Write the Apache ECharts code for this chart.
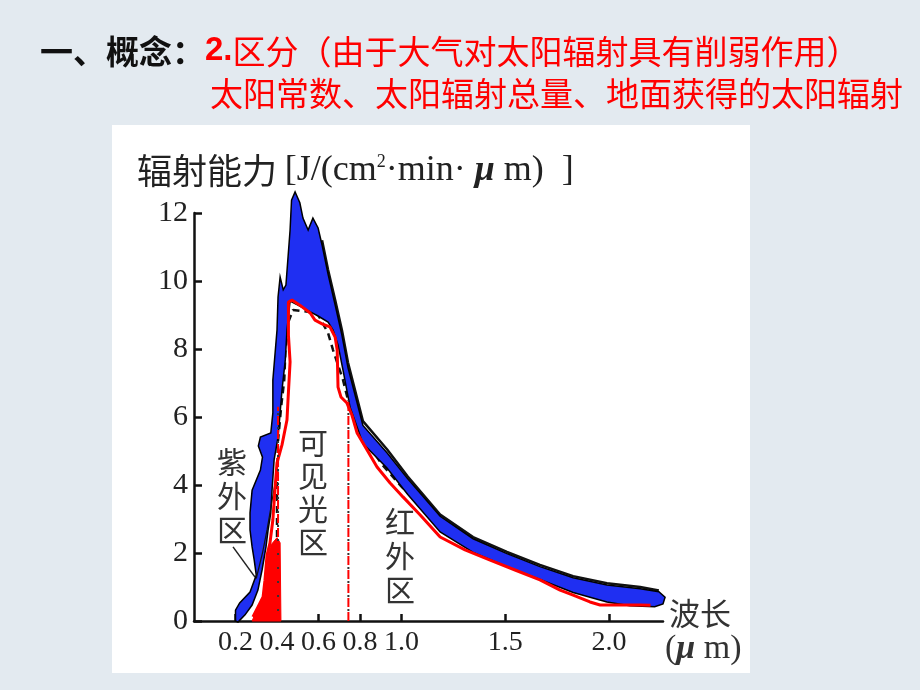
<!DOCTYPE html>
<html><head><meta charset="utf-8">
<script src="https://cdn.jsdelivr.net/npm/echarts@6/dist/echarts.min.js"></script>
<style>html,body{margin:0;padding:0;background:#e3eaf0}#c{width:920px;height:690px}</style>
</head><body><div id="c"></div>
<script>
// ---- tick labels ----
const xTickValues = [0.2, 0.4, 0.6, 0.8, 1.0, 1.5, 2.0];
const yTickMin = 0, yTickMax = 12, yTickStep = 2;

// ---- curves: [wavelength μm, radiant power] ----
// ground-received solar radiation (red line)
const groundCurve = [
  [0.284,0.12],[0.308,0.41],[0.333,0.71],[0.342,1.2],[0.352,1.94],[0.366,2.29],[0.38,2.97],
  [0.39,3.85],[0.40,4.65],[0.424,5.18],[0.448,5.91],[0.453,6.5],[0.463,7.62],[0.455,8.41],
  [0.455,9.38],[0.472,9.44],[0.51,9.29],[0.56,9.06],[0.583,8.85],[0.617,8.74],[0.655,8.65],
  [0.68,8.35],[0.69,7.97],[0.694,6.88],[0.708,6.59],[0.737,6.41],[0.761,6.06],[0.786,5.53],
  [0.834,5.03],[0.882,4.53],[0.945,4.06],[1.007,3.65],[1.09,3.12],[1.186,2.47],[1.306,2.09],
  [1.427,1.79],[1.547,1.5],[1.667,1.21],[1.764,0.91],[1.827,0.76],[1.908,0.56],[1.957,0.47],
  [2.053,0.47],[2.15,0.47],[2.2,0.46]
];
// band absorbed by the atmosphere (blue filled outline, closed)
const atmosphereBand = [
  [0.20,0.0],[0.20,0.32],[0.22,0.53],[0.27,0.85],[0.30,1.35],[0.29,1.8],[0.28,2.18],[0.27,2.68],
  [0.27,3.18],[0.28,3.85],[0.32,4.44],[0.33,4.82],[0.31,5.15],[0.32,5.41],[0.37,5.53],[0.38,6.12],
  [0.38,7.09],[0.40,8.56],[0.405,9.53],[0.415,10.12],[0.43,9.74],[0.443,9.88],[0.463,11.5],
  [0.47,12.38],[0.487,12.62],[0.50,12.44],[0.51,12.3],[0.525,11.85],[0.55,11.5],[0.573,11.85],
  [0.598,11.56],[0.617,11.06],[0.646,10.2],[0.68,9.3],[0.713,8.4],[0.742,7.45],[0.814,5.75],
  [0.93,4.95],[1.03,4.18],[1.186,3.08],[1.345,2.42],[1.508,1.98],[1.667,1.6],[1.827,1.27],
  [1.99,1.06],[2.15,0.95],[2.24,0.86],[2.27,0.7],[2.26,0.5],[2.22,0.42],[2.1,0.45],[1.99,0.56],
  [1.827,0.84],[1.667,1.22],[1.508,1.6],[1.345,2.02],[1.186,2.62],[1.03,3.72],[0.93,4.5],
  [0.814,5.22],[0.752,6.29],[0.718,7.38],[0.694,8.12],[0.67,8.56],[0.646,8.79],[0.598,8.97],
  [0.56,9.09],[0.51,9.26],[0.463,9.41],[0.448,8.56],[0.44,7.68],[0.424,6.79],[0.415,6.12],
  [0.405,5.41],[0.386,4.74],[0.376,3.85],[0.37,3.18],[0.357,2.68],[0.347,2.18],[0.328,1.5],
  [0.308,0.91],[0.28,0.47],[0.246,0.18],[0.212,-0.03]
];
// top-of-atmosphere outline (black line)
const topOutline = [
  [0.617,11.2],[0.646,10.33],[0.68,9.45],[0.713,8.55],[0.742,7.6],[0.814,5.88],[0.93,5.05],
  [1.03,4.25],[1.186,3.13],[1.345,2.47],[1.508,2.03],[1.667,1.65],[1.827,1.32],[1.99,1.11],[2.15,1.0],[2.24,0.9]
];
// black-body reference curve (black dashed)
const blackbodyCurve = [
  [0.40,0.0],[0.40,4.0],[0.405,5.3],[0.42,6.3],[0.435,7.1],[0.44,7.9],[0.455,8.8],[0.477,9.15],
  [0.593,9.06],[0.646,8.47],[0.67,7.97],[0.718,7.09],[0.742,6.5],[0.80,5.6],[0.90,4.65],[1.0,3.95],[1.1,3.35]
];
// ultraviolet part reaching the ground (red fill)
const uvGround = [
  [0.28,0],[0.308,0.41],[0.333,0.71],[0.347,1.26],[0.357,1.91],[0.371,2.24],[0.40,2.45],[0.415,2.3],[0.419,0]
];
const uvOutline = [[0.30,1.25],[0.33,2.0],[0.352,2.68],[0.375,3.5],[0.395,4.2],[0.405,4.65]];
// region borders (red dash-dot verticals)
const violetBorder = [[0.405,0],[0.405,6.3]];
const redBorder = [[0.744,0],[0.744,6.5]];
const uvLeader = [[0.188,2.18],[0.294,1.29]];

function polygonSeries(name, pts, style, z) {
  return {
    name, type: 'custom', coordinateSystem: 'cartesian2d', z, silent: true, clip: false,
    data: [[pts[0][0], pts[0][1]]],
    renderItem: function (params, api) {
      return { type: 'polygon', shape: { points: pts.map(p => api.coord(p)), smooth: 0 }, style: style };
    }
  };
}
function lineSeries(name, data, lineStyle, z) {
  return { name, type: 'line', data, showSymbol: false, symbol: 'none', z, lineStyle, silent: true, clip: false };
}

const chart = echarts.init(document.getElementById('c'), null, { renderer: 'canvas' });
const CJK = '"Noto Sans CJK SC", sans-serif';
const SERIF = '"Liberation Serif", "DejaVu Serif", serif';
chart.setOption({
  backgroundColor: '#e3eaf0',
  animation: false,
  grid: { left: 194, right: 257, top: 213, bottom: 69 },
  xAxis: {
    type: 'value', min: 0, max: 2.26,
    axisLine: { show: true, lineStyle: { color: '#111', width: 2.5 } },
    axisTick: { show: true, inside: true, length: 7, customValues: xTickValues, lineStyle: { color: '#111', width: 2.5 } },
    axisLabel: { customValues: xTickValues, formatter: v => v.toFixed(1), fontFamily: SERIF, fontSize: 28, color: '#222', margin: 8 },
    splitLine: { show: false }
  },
  yAxis: {
    type: 'value', min: yTickMin, max: yTickMax, interval: yTickStep,
    axisLine: { show: true, lineStyle: { color: '#111', width: 2.5 } },
    axisTick: { show: true, inside: true, length: 8, lineStyle: { color: '#111', width: 2.5 } },
    axisLabel: { fontFamily: SERIF, fontSize: 30, color: '#222', margin: 6 },
    splitLine: { show: false }
  },
  series: [
    lineSeries('blackbody', blackbodyCurve, { color: '#111', width: 2.5, type: [7, 5] }, 2),
    lineSeries('top', topOutline, { color: '#111', width: 2.5 }, 3),
    polygonSeries('atmosphere', atmosphereBand, { fill: '#1f2ff2', stroke: '#000', lineWidth: 1.5 }, 4),
    polygonSeries('uv', uvGround, { fill: '#ff0000', stroke: '#ff0000', lineWidth: 1 }, 4),
    lineSeries('uvOutline', uvOutline, { color: '#111', width: 1.2 }, 5),
    lineSeries('ground', groundCurve, { color: '#ff0000', width: 3 }, 5),
    lineSeries('violetBorder', violetBorder, { color: '#ff0000', width: 2, type: [9, 5] }, 6),
    lineSeries('violetBorderDots', violetBorder, { color: '#333', width: 2, type: [2, 12], dashOffset: -10 }, 6),
    lineSeries('redBorder', redBorder, { color: '#ff0000', width: 2, type: [9, 5] }, 6),
    lineSeries('redBorderDots', redBorder, { color: '#333', width: 2, type: [2, 12], dashOffset: -10 }, 6),
    lineSeries('leader', uvLeader, { color: '#222', width: 1.5 }, 6)
  ],
  graphic: [
    { type: 'rect', z: -1, shape: { x: 112, y: 125, width: 638, height: 548 }, style: { fill: '#ffffff' } },
    { type: 'text', z: 10, x: 40, y: 51, style: {
        text: '{a|一、概念：}{b|2.}{c|区分（由于大气对太阳辐射具有削弱作用）}', verticalAlign: 'middle',
        rich: {
          a: { fontFamily: CJK, fontWeight: 'bold', fontSize: 33, fill: '#111' },
          b: { fontFamily: '"Liberation Sans", Arial, sans-serif', fontWeight: 'bold', fontSize: 33, fill: '#ff0000' },
          c: { fontFamily: CJK, fontSize: 33, fill: '#ff0000' }
        } } },
    { type: 'text', z: 10, x: 210, y: 93, style: { text: '太阳常数、太阳辐射总量、地面获得的太阳辐射', fontFamily: CJK, fontSize: 33, fill: '#ff0000', verticalAlign: 'middle' } },
    { type: 'text', z: 10, x: 137, y: 171, style: {
        text: '{a|辐射能力 }{b|[J/(cm}{s|2}{b|·min· }{m|μ}{b| m)  ]}', verticalAlign: 'middle',
        rich: {
          a: { fontFamily: CJK, fontSize: 35, fill: '#222' },
          b: { fontFamily: SERIF, fontSize: 36, fill: '#222' },
          s: { fontFamily: SERIF, fontSize: 18, fill: '#222', verticalAlign: 'top' },
          m: { fontFamily: SERIF, fontSize: 36, fill: '#222', fontStyle: 'italic', fontWeight: 'bold' }
        } } },
    { type: 'text', z: 10, x: 232, y: 496, style: { text: '紫\n外\n区', fontFamily: CJK, fontSize: 30, lineHeight: 34, fill: '#333', align: 'center', verticalAlign: 'middle' } },
    { type: 'text', z: 10, x: 313, y: 492, style: { text: '可\n见\n光\n区', fontFamily: CJK, fontSize: 30, lineHeight: 33, fill: '#333', align: 'center', verticalAlign: 'middle' } },
    { type: 'text', z: 10, x: 400, y: 556, style: { text: '红\n外\n区', fontFamily: CJK, fontSize: 30, lineHeight: 34, fill: '#333', align: 'center', verticalAlign: 'middle' } },
    { type: 'text', z: 10, x: 669, y: 613, style: { text: '波长', fontFamily: CJK, fontSize: 31, fill: '#333', verticalAlign: 'middle' } },
    { type: 'text', z: 10, x: 665, y: 649, style: {
        text: '{b|(}{m|μ}{b| m)}', verticalAlign: 'middle',
        rich: {
          b: { fontFamily: SERIF, fontSize: 34, fill: '#333' },
          m: { fontFamily: SERIF, fontSize: 34, fill: '#333', fontStyle: 'italic', fontWeight: 'bold' }
        } } }
  ]
});
</script></body></html>
